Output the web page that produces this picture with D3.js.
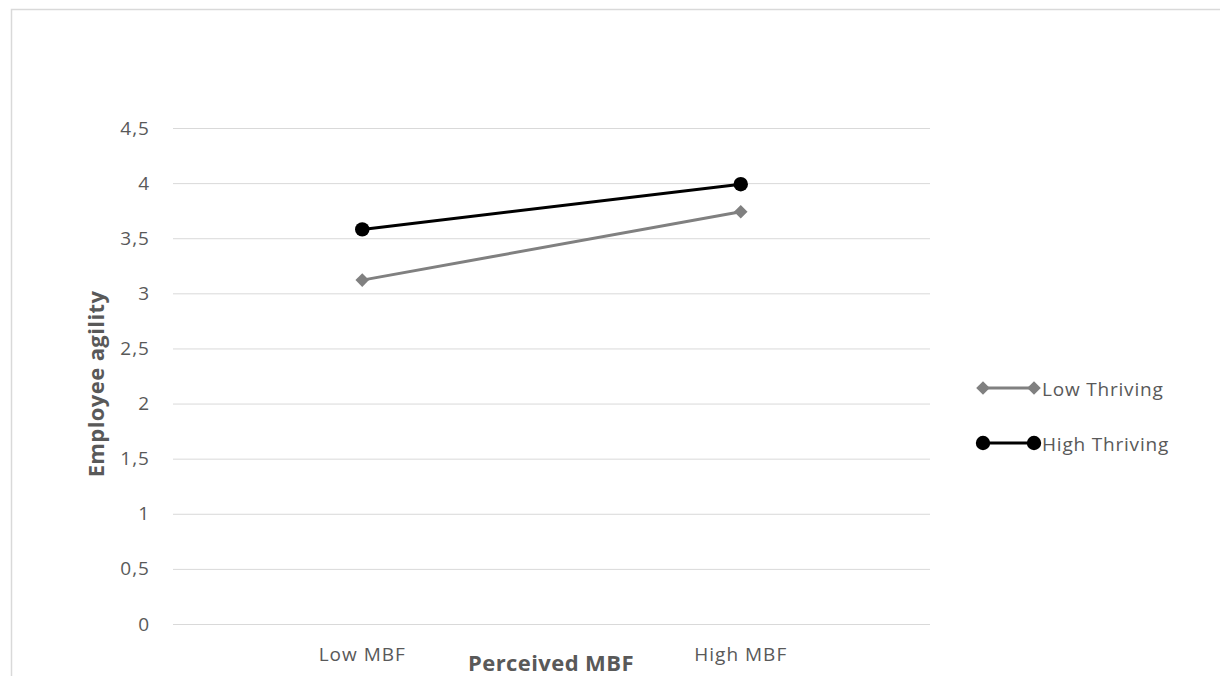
<!DOCTYPE html>
<html><head><meta charset="utf-8">
<script src="https://cdn.jsdelivr.net/npm/d3@7"></script>
<style>body{margin:0;background:#fff;} text{font-family:"Open Sans",sans-serif;}</style>
</head><body>
<svg id="c" width="1220" height="676"></svg>
<script>
const categories = ["Low MBF", "High MBF"];
const seriesNames = ["Low Thriving", "High Thriving"];
const lowThriving = [3.12, 3.74];
const highThriving = [3.58, 3.99];
const yTicks = [0, 0.5, 1, 1.5, 2, 2.5, 3, 3.5, 4, 4.5];

const FONT = "'Open Sans', sans-serif";
const TXT = "#595959";
const svg = d3.select("#c");
svg.append("path").attr("d","M11.5,676 L11.5,9.5 L1220,9.5").attr("fill","none").attr("stroke","#d9d9d9").attr("stroke-width",1.5);

const x0 = 173, x1 = 930;
const y = d3.scaleLinear().domain([0,4.5]).range([624,128]);
const x = d3.scaleBand().domain(categories).range([x0,x1]);
const fmt = d => String(d).replace(".", ",");

const gy = svg.append("g").attr("transform",`translate(${x0},0)`)
  .call(d3.axisLeft(y).tickValues(yTicks).tickSize(-(x1-x0)).tickPadding(23).tickFormat(fmt));
gy.select(".domain").remove();
gy.selectAll("line").attr("stroke","#d9d9d9").attr("stroke-width",1);
gy.selectAll("text").attr("fill",TXT).attr("font-size",19).attr("letter-spacing",1).style("font-family",FONT);

const gx = svg.append("g").attr("transform",`translate(0,624)`)
  .call(d3.axisBottom(x).tickSize(0).tickPadding(24));
gx.select(".domain").remove();
gx.selectAll("text").attr("fill",TXT).attr("font-size",19).attr("letter-spacing",1).style("font-family",FONT);

svg.append("text").attr("x",551).attr("y",671).attr("text-anchor","middle")
  .attr("font-size",22).attr("letter-spacing",0.4).attr("font-weight","bold").attr("fill",TXT).text("Perceived MBF");
svg.append("text").attr("transform","translate(104,384) rotate(-90)").attr("text-anchor","middle")
  .attr("font-size",22).attr("letter-spacing",0.4).attr("font-weight","bold").attr("fill",TXT).text("Employee agility");

const cx = d => x(d) + x.bandwidth()/2;
const line = d3.line().x((d,i)=>cx(categories[i])).y(d=>y(d));
const series = [
  {name: seriesNames[0], values: lowThriving, color:"#808080", marker:"diamond"},
  {name: seriesNames[1], values: highThriving, color:"#000000", marker:"circle"}
];
function drawMarker(g, px, py, s){
  if (s.marker==="circle") g.append("circle").attr("cx",px).attr("cy",py).attr("r",7.2).attr("fill",s.color);
  else g.append("rect").attr("x",px-4.8).attr("y",py-4.8).attr("width",9.6).attr("height",9.6)
        .attr("transform",`rotate(45,${px},${py})`).attr("fill",s.color);
}
series.forEach(s=>{
  svg.append("path").datum(s.values).attr("d",line).attr("fill","none").attr("stroke",s.color).attr("stroke-width",3);
  const g = svg.append("g");
  s.values.forEach((v,i)=>drawMarker(g, cx(categories[i]), y(v), s));
});

series.forEach((s,i)=>{
  const ly = 388 + i*55;
  svg.append("line").attr("x1",983).attr("x2",1034).attr("y1",ly).attr("y2",ly).attr("stroke",s.color).attr("stroke-width",3);
  const g = svg.append("g");
  drawMarker(g,983,ly,s); drawMarker(g,1034,ly,s);
  svg.append("text").attr("x",1042).attr("y",ly+8).attr("font-size",19).attr("letter-spacing",0.8).attr("fill",TXT).text(s.name);
});
</script>
</body></html>
